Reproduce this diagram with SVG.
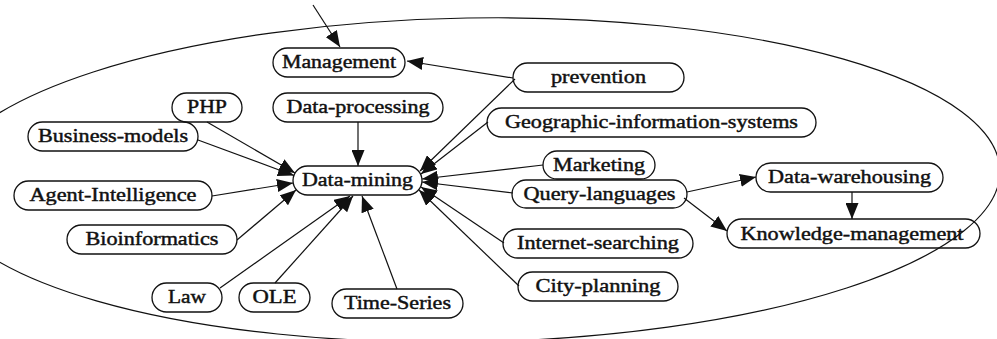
<svg xmlns="http://www.w3.org/2000/svg" width="997" height="339" viewBox="0 0 997 339">
<style>
.n rect{fill:none;stroke:#111;stroke-width:1.3}
.n text{font-family:"Liberation Serif","Times New Roman",serif;font-size:19px;fill:#111;stroke:#111;stroke-width:0.45;text-anchor:middle}
.e line{stroke:#111;stroke-width:1.2;marker-end:url(#ah)}
.bg{fill:none;stroke:#111;stroke-width:1.2}
</style>
<defs>
<marker id="ah" markerUnits="userSpaceOnUse" markerWidth="17" markerHeight="13" refX="16" refY="6.5" orient="auto">
<path d="M0,0 L16,6.5 L0,13 z" fill="#111"/>
</marker>
</defs>
<rect width="997" height="339" fill="#fff"/>
<ellipse class="bg" cx="470" cy="180" rx="530" ry="162" transform="rotate(-1 470 180)"/>
<g id="Management" class="n"><rect x="273" y="48" width="132" height="29" rx="14.5"/><text x="339" y="68" textLength="114" lengthAdjust="spacingAndGlyphs">Management</text></g>
<g id="PHP" class="n"><rect x="172" y="93" width="70" height="29" rx="14.5"/><text x="207" y="113" textLength="40" lengthAdjust="spacingAndGlyphs">PHP</text></g>
<g id="Data-processing" class="n"><rect x="273" y="93" width="170" height="29" rx="14.5"/><text x="358" y="113" textLength="143" lengthAdjust="spacingAndGlyphs">Data-processing</text></g>
<g id="Business-models" class="n"><rect x="28" y="122" width="170" height="29" rx="14.5"/><text x="113" y="142" textLength="150" lengthAdjust="spacingAndGlyphs">Business-models</text></g>
<g id="Agent-Intelligence" class="n"><rect x="14" y="181" width="198" height="29" rx="14.5"/><text x="113" y="201" textLength="167" lengthAdjust="spacingAndGlyphs">Agent-Intelligence</text></g>
<g id="Bioinformatics" class="n"><rect x="67" y="225" width="170" height="29" rx="14.5"/><text x="152" y="245" textLength="133" lengthAdjust="spacingAndGlyphs">Bioinformatics</text></g>
<g id="Law" class="n"><rect x="152" y="283" width="70" height="29" rx="14.5"/><text x="187" y="303" textLength="38" lengthAdjust="spacingAndGlyphs">Law</text></g>
<g id="OLE" class="n"><rect x="239" y="283" width="71" height="29" rx="14.5"/><text x="274.5" y="303" textLength="44" lengthAdjust="spacingAndGlyphs">OLE</text></g>
<g id="Time-Series" class="n"><rect x="332" y="289" width="131" height="29" rx="14.5"/><text x="397.5" y="309" textLength="107" lengthAdjust="spacingAndGlyphs">Time-Series</text></g>
<g id="Data-mining" class="n"><rect x="293" y="166" width="129" height="29" rx="14.5"/><text x="357.5" y="186" textLength="111" lengthAdjust="spacingAndGlyphs">Data-mining</text></g>
<g id="prevention" class="n"><rect x="513" y="63" width="171" height="29" rx="14.5"/><text x="598.5" y="83" textLength="95" lengthAdjust="spacingAndGlyphs">prevention</text></g>
<g id="Geographic-information-systems" class="n"><rect x="487" y="108" width="329" height="29" rx="14.5"/><text x="651.5" y="128" textLength="293" lengthAdjust="spacingAndGlyphs">Geographic-information-systems</text></g>
<g id="Marketing" class="n"><rect x="543" y="151" width="112" height="28" rx="14"/><text x="599" y="171" textLength="92" lengthAdjust="spacingAndGlyphs">Marketing</text></g>
<g id="Query-languages" class="n"><rect x="512" y="180" width="175" height="28" rx="14"/><text x="599.5" y="200" textLength="152" lengthAdjust="spacingAndGlyphs">Query-languages</text></g>
<g id="Data-warehousing" class="n"><rect x="756" y="163" width="187" height="29" rx="14.5"/><text x="849.5" y="183" textLength="163" lengthAdjust="spacingAndGlyphs">Data-warehousing</text></g>
<g id="Knowledge-management" class="n"><rect x="727" y="219" width="253" height="29" rx="14.5"/><text x="852" y="240" textLength="223" lengthAdjust="spacingAndGlyphs">Knowledge-management</text></g>
<g id="Internet-searching" class="n"><rect x="503" y="229" width="190" height="29" rx="14.5"/><text x="598" y="249" textLength="162" lengthAdjust="spacingAndGlyphs">Internet-searching</text></g>
<g id="City-planning" class="n"><rect x="518" y="272" width="160" height="29" rx="14.5"/><text x="598" y="292" textLength="125" lengthAdjust="spacingAndGlyphs">City-planning</text></g>
<g id="connectors" class="e">
<line x1="313" y1="5" x2="340" y2="47"/>
<line x1="513" y1="78" x2="407" y2="61"/>
<line x1="358" y1="122" x2="358" y2="166"/>
<line x1="207" y1="122" x2="295" y2="173"/>
<line x1="198" y1="140" x2="294" y2="175.5"/>
<line x1="212" y1="196" x2="293" y2="183"/>
<line x1="237" y1="240" x2="296" y2="190"/>
<line x1="220" y1="288" x2="350" y2="196"/>
<line x1="275" y1="283" x2="353" y2="196"/>
<line x1="397" y1="289" x2="362" y2="196"/>
<line x1="515" y1="79" x2="420" y2="171"/>
<line x1="488" y1="122" x2="421" y2="174"/>
<line x1="543" y1="165" x2="422" y2="179"/>
<line x1="513" y1="193" x2="422" y2="182"/>
<line x1="504" y1="243" x2="421" y2="187"/>
<line x1="519" y1="286" x2="419" y2="190"/>
<line x1="687" y1="192" x2="756" y2="177"/>
<line x1="684" y1="198" x2="727" y2="231"/>
<line x1="852" y1="192" x2="852" y2="219"/>
</g>
</svg>
